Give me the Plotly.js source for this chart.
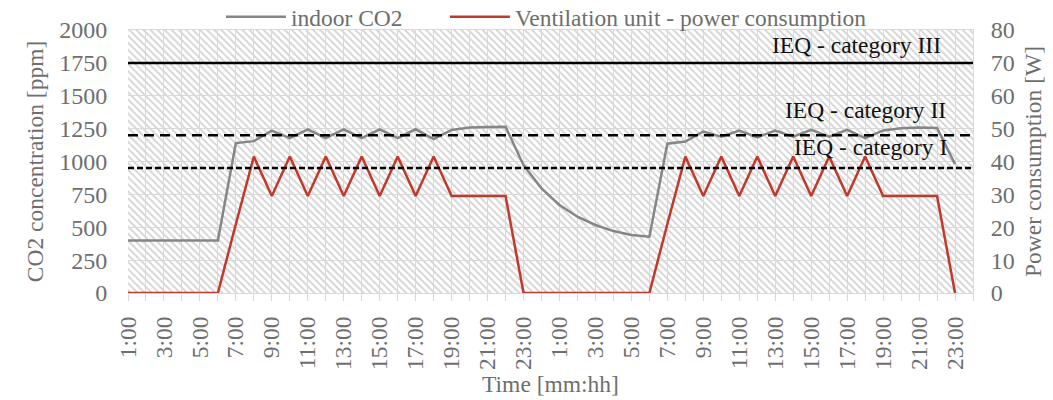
<!DOCTYPE html>
<html>
<head>
<meta charset="utf-8">
<script src="https://cdn.plot.ly/plotly-3.0.1.min.js"></script>
<style>
html,body{margin:0;padding:0;background:#fff;}
#chart{width:1053px;height:400px;}
</style>
</head>
<body>
<div id="chart"></div>
<script>
// Hour labels for two consecutive days
const timeLabels = [
  '1:00','2:00','3:00','4:00','5:00','6:00','7:00','8:00','9:00','10:00','11:00','12:00',
  '13:00','14:00','15:00','16:00','17:00','18:00','19:00','20:00','21:00','22:00','23:00','24:00',
  '1:00','2:00','3:00','4:00','5:00','6:00','7:00','8:00','9:00','10:00','11:00','12:00',
  '13:00','14:00','15:00','16:00','17:00','18:00','19:00','20:00','21:00','22:00','23:00','24:00'
];

// Indoor CO2 concentration [ppm]
const indoorCO2 = [
  400, 400, 400, 400, 400, 400, 1140, 1155, 1235, 1178, 1245, 1178,
  1245, 1178, 1245, 1178, 1245, 1170, 1240, 1258, 1262, 1265, 972, 796,
  669, 580, 517, 471, 441, 428, 1135, 1152, 1228, 1189, 1236, 1184,
  1236, 1189, 1240, 1189, 1240, 1178, 1236, 1253, 1258, 1255, 980
];

// Ventilation unit power consumption [W]
const powerW = [
  0, 0, 0, 0, 0, 0, 21, 41.5, 29.5, 41.5, 29.5, 41.5,
  29.5, 41.5, 29.5, 41.5, 29.5, 41.5, 29.5, 29.5, 29.5, 29.5, 0, 0,
  0, 0, 0, 0, 0, 0, 21, 41.5, 29.5, 41.5, 29.5, 41.5,
  29.5, 41.5, 29.5, 41.5, 29.5, 41.5, 29.5, 29.5, 29.5, 29.5, 0
];

// IEQ category limits [ppm]
const ieqNames = ['IEQ - category III', 'IEQ - category II', 'IEQ - category I'];
const ieqLimits = [1750, 1200, 950];

const FONT = '"Liberation Serif", "Times New Roman", serif';
const GREY_TXT = '#6e6e6e';
const GRID = '#d9d9d9';
const FS = 23.5;

const xPos = timeLabels.map((_, i) => i);
const tickIdx = xPos.filter(i => i % 2 === 0 && i < timeLabels.length - 1);

const traces = [
  {
    x: xPos.slice(0, indoorCO2.length), y: indoorCO2,
    name: 'indoor CO2', type: 'scatter', mode: 'lines',
    line: {color: '#868686', width: 2.5}, yaxis: 'y', legend: 'legend'
  },
  {
    x: xPos.slice(0, powerW.length), y: powerW,
    name: 'Ventilation unit - power consumption', type: 'scatter', mode: 'lines',
    line: {color: '#c0392b', width: 2.5}, yaxis: 'y2', legend: 'legend2'
  }
];

const dashes = ['solid', '10px,6px', '6px,3px'];
const shapes = ieqLimits.map((v, i) => ({
  type: 'line', xref: 'paper', x0: 0, x1: 1, yref: 'y', y0: v, y1: v,
  line: {color: '#000', width: 2.5, dash: dashes[i]}, layer: 'above'
}));

const labelRight = [0.964, 0.970, 0.972];
const labelShift = [18, 25, 21];
const annotations = ieqLimits.map((v, i) => ({
  xref: 'paper', yref: 'y', x: labelRight[i], y: v, text: ieqNames[i],
  showarrow: false, xanchor: 'right', yanchor: 'middle', yshift: labelShift[i],
  font: {family: FONT, size: FS, color: '#111'}
}));

const hatchSvg = "<svg xmlns='http://www.w3.org/2000/svg' width='846' height='263'>" +
  "<defs><pattern id='p' width='5' height='5' patternUnits='userSpaceOnUse' patternTransform='rotate(-45)'>" +
  "<rect width='5' height='5' fill='#ffffff'/><rect width='2' height='5' fill='#d8d8d8'/></pattern></defs>" +
  "<rect width='846' height='263' fill='url(#p)'/></svg>";

const legendBase = {
  orientation: 'h', xanchor: 'left', y: 1.05, yanchor: 'middle',
  font: {family: FONT, size: FS, color: GREY_TXT}, bgcolor: 'rgba(0,0,0,0)',
  itemwidth: 60
};

const layout = {
  width: 1053, height: 400,
  margin: {l: 128, r: 80, t: 30, b: 107, autoexpand: false},
  paper_bgcolor: '#ffffff', plot_bgcolor: 'rgba(0,0,0,0)',
  font: {family: FONT, size: FS, color: GREY_TXT},
  showlegend: true,
  legend: Object.assign({}, legendBase, {x: 0.110}),
  legend2: Object.assign({}, legendBase, {x: 0.375}),
  xaxis: {
    range: [0, 47], tickvals: tickIdx, ticktext: tickIdx.map(i => timeLabels[i]),
    tickangle: -90, showgrid: true, gridcolor: GRID, gridwidth: 1,
    ticks: 'outside', ticklen: 7, tickcolor: GRID, ticklabelstandoff: 6,
    minor: {dtick: 1, tick0: 0, showgrid: true, gridcolor: GRID, gridwidth: 1, ticks: 'outside', ticklen: 7, tickcolor: GRID},
    zeroline: false, showline: true, linecolor: GRID, mirror: true,
    tickfont: {family: FONT, size: FS, color: GREY_TXT},
    title: {text: 'Time [mm:hh]', standoff: 6, font: {family: FONT, size: FS, color: GREY_TXT}},
    fixedrange: true
  },
  yaxis: {
    range: [0, 2000], dtick: 250, showgrid: true, gridcolor: GRID, gridwidth: 1,
    zeroline: false, ticks: 'outside', ticklen: 15, tickcolor: 'rgba(0,0,0,0)',
    tickfont: {family: FONT, size: 24, color: GREY_TXT},
    title: {text: 'CO2 concentration [ppm]', standoff: 8, font: {family: FONT, size: FS, color: GREY_TXT}},
    fixedrange: true
  },
  yaxis2: {
    range: [0, 80], dtick: 10, overlaying: 'y', side: 'right', showgrid: false,
    zeroline: false, ticks: 'outside', ticklen: 12, tickcolor: 'rgba(0,0,0,0)',
    showline: true, linecolor: GRID,
    tickfont: {family: FONT, size: 24, color: GREY_TXT},
    title: {text: 'Power consumption [W]', standoff: 10, font: {family: FONT, size: FS, color: GREY_TXT}},
    fixedrange: true
  },
  shapes: shapes,
  annotations: annotations,
  images: [{
    source: 'data:image/svg+xml;charset=utf-8,' + encodeURIComponent(hatchSvg),
    xref: 'paper', yref: 'paper', x: 0, y: 1, sizex: 1, sizey: 1,
    xanchor: 'left', yanchor: 'top', sizing: 'stretch', layer: 'below'
  }]
};

Plotly.newPlot('chart', traces, layout, {displayModeBar: false, staticPlot: true});
</script>
</body>
</html>
